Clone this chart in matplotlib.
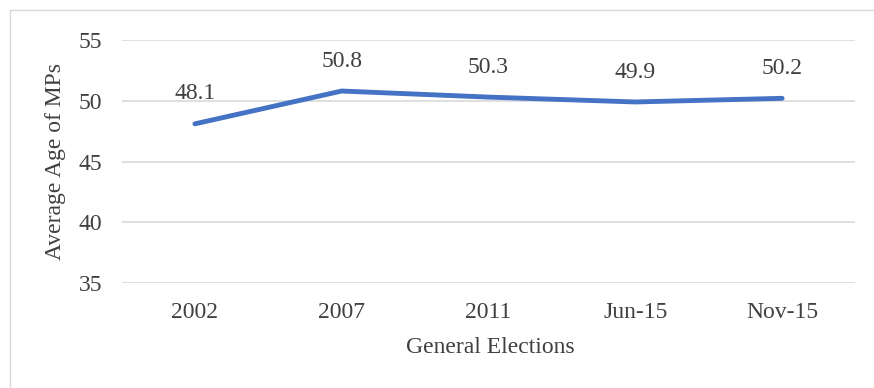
import matplotlib.pyplot as plt
from matplotlib.lines import Line2D

elections = ['2002', '2007', '2011', 'Jun-15', 'Nov-15']
avg_age = [48.1, 50.8, 50.3, 49.9, 50.2]
yticks = [35, 40, 45, 50, 55]

plt.rcParams['font.family'] = ['Liberation Serif', 'DejaVu Serif']

W, H = 874, 388
fig = plt.figure(figsize=(W / 100, H / 100), dpi=100)
ax = fig.add_axes([121.5 / W, 105 / H, 734 / W, 243 / H])

x = list(range(len(elections)))
ax.plot(x, avg_age, color='#4472C4', linewidth=3.5, solid_capstyle='round', zorder=3)
for xi, v in zip(x, avg_age):
    ax.annotate(f'{v}', (xi, v), xytext=(0, 21.5), textcoords='offset points',
                ha='center', va='center', fontsize=17, color='#404040')

ax.set_xlim(-0.5, len(elections) - 0.5)
ax.set_ylim(35, 55)
ax.set_yticks(yticks)
ax.set_xticks(x)
ax.set_xticklabels(elections)
ax.tick_params(axis='both', length=0, labelsize=17, labelcolor='#404040')
ax.tick_params(axis='y', pad=14)
ax.tick_params(axis='x', pad=14)
ax.grid(axis='y', color='#D9D9D9', linewidth=1.2)
ax.set_axisbelow(True)
for s in ax.spines.values():
    s.set_visible(False)

ax.set_ylabel('Average Age of MPs', fontsize=17, color='#404040')
ax.yaxis.set_label_coords(-0.0756, 0.5)
ax.set_xlabel('General Elections', fontsize=17, color='#404040')
ax.xaxis.set_label_coords(0.502, -0.222)

# chart frame on left and top
fig.add_artist(Line2D([9.5 / W, 9.5 / W], [0, 1 - 10 / H], color='#D9D9D9', linewidth=1))
fig.add_artist(Line2D([9.5 / W, 1], [1 - 10 / H, 1 - 10 / H], color='#D9D9D9', linewidth=1))

fig.savefig('out.png', dpi=100)
